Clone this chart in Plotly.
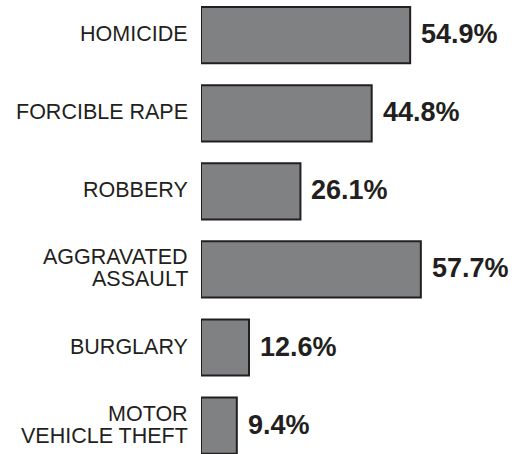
import plotly.graph_objects as go

categories = ["HOMICIDE", "FORCIBLE RAPE", "ROBBERY", "AGGRAVATED\nASSAULT",
              "BURGLARY", "MOTOR\nVEHICLE THEFT"]
values = [54.9, 44.8, 26.1, 57.7, 12.6, 9.4]
value_labels = ["54.9%", "44.8%", "26.1%", "57.7%", "12.6%", "9.4%"]

INK = "#231f20"
FILL = "#808183"

fig = go.Figure()
fig.add_trace(go.Bar(
    x=values, y=categories, orientation="h",
    marker=dict(color=FILL, line=dict(color=INK, width=2)),
    hoverinfo="skip",
))

annotations = []
for cat, v, lab in zip(categories, values, value_labels):
    annotations.append(dict(
        x=v, y=cat, xref="x", yref="y", text=f"<b>{lab}</b>",
        showarrow=False, xanchor="left", yanchor="middle", xshift=9, yshift=1,
        font=dict(family="Liberation Sans, Arial, sans-serif", size=27, color=INK),
    ))
    lines = cat.split("\n")
    n = len(lines)
    pitch = 22
    for k, line in enumerate(lines):
        off = ((n - 1) / 2 - k) * pitch
        annotations.append(dict(
            x=0, y=cat, xref="x", yref="y", text=line,
            showarrow=False, xanchor="right", yanchor="middle",
            xshift=-11, yshift=off + 1,
            font=dict(family="Liberation Sans, Arial, sans-serif", size=21.5, color=INK),
        ))

fig.update_layout(
    width=516, height=454,
    margin=dict(l=201, r=0, t=0, b=0),
    paper_bgcolor="white", plot_bgcolor="white",
    showlegend=False, bargap=0.28,
    annotations=annotations,
    xaxis=dict(range=[0, 82.68], visible=False, fixedrange=True),
    yaxis=dict(type="category", categoryorder="array", categoryarray=categories,
               range=[5.364, -0.451], visible=False, fixedrange=True),
)

fig.write_html("out.html", config={"displayModeBar": False},
               post_script="document.body.style.margin='0';document.body.style.overflow='hidden';")
